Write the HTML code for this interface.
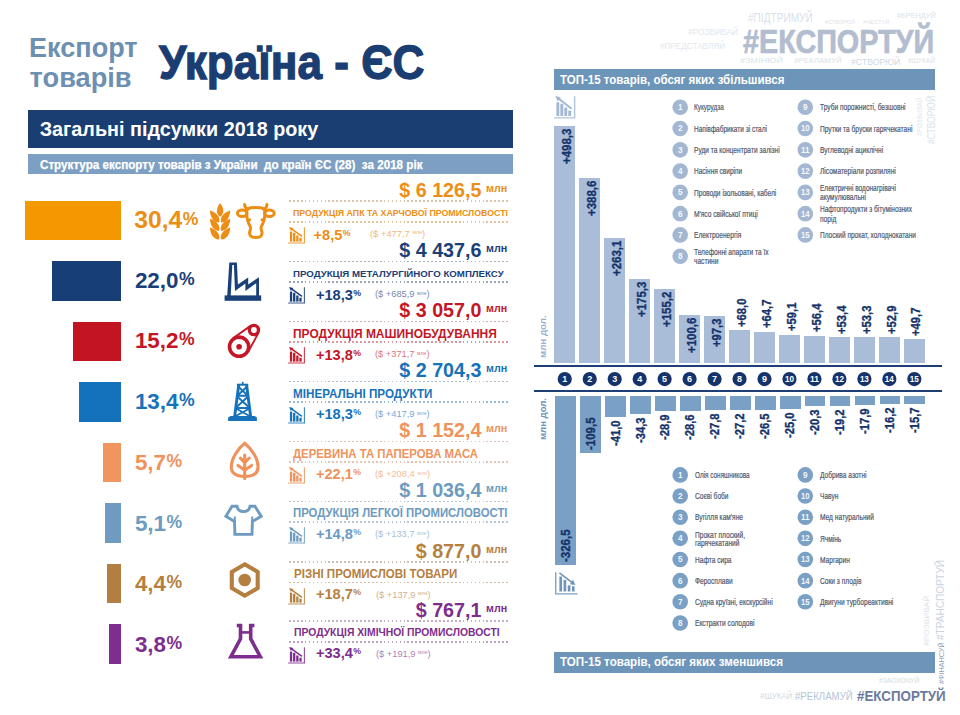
<!DOCTYPE html>
<html lang="uk"><head><meta charset="utf-8"><title>Експорт товарів Україна - ЄС</title><style>
html,body{margin:0;padding:0;background:#fff}
body{width:960px;height:715px;position:relative;overflow:hidden;font-family:"Liberation Sans",sans-serif}
.t{position:absolute;white-space:nowrap;line-height:1;margin:0;padding:0}
.r{position:absolute}
.d{position:absolute;height:1.7px;background:repeating-linear-gradient(90deg,currentColor 0,currentColor 1.7px,transparent 1.7px,transparent 3.95px);opacity:.55}
svg{overflow:visible}
</style></head>
<body>
<div id="t1" class="t" style="left:28.50px;transform-origin:0 0;top:34.19px;font-size:27.30px;font-weight:bold;color:#6d8fb1;transform:scaleX(0.9914);">Експорт</div>
<div id="t2" class="t" style="left:29.60px;transform-origin:0 0;top:63.58px;font-size:27.20px;font-weight:bold;color:#6d8fb1;">товарів</div>
<div id="t3" class="t" style="left:159.40px;transform-origin:0 0;top:38.19px;font-size:48.80px;font-weight:bold;color:#1b3e72;transform:scaleX(0.9045);-webkit-text-stroke:1.3px #1b3e72;">Україна - ЄС</div>
<div class="r" style="left:28.00px;top:109.50px;width:485.00px;height:38.20px;background:#1b3e72;"></div>
<div id="t4" class="t" style="left:39.70px;transform-origin:0 0;top:119.84px;font-size:19.80px;font-weight:bold;color:#fff;">Загальні підсумки 2018 року</div>
<div class="r" style="left:28.00px;top:153.90px;width:485.00px;height:20.50px;background:#7c9fc3;"></div>
<div id="t5" class="t" style="left:39.60px;transform-origin:0 0;top:159.20px;font-size:12.40px;font-weight:bold;color:#fff;transform:scaleX(0.9398);white-space:pre;-webkit-text-stroke:0.25px #fff;">Структура експорту товарів з України  до країн ЄС (28)  за 2018 рік</div>
<div class="r" style="left:25.40px;top:200.80px;width:95.30px;height:39.50px;background:#f39800;"></div>
<div id="t6" class="t" style="left:134.20px;transform-origin:0 0;top:207.89px;font-size:24.70px;font-weight:bold;color:#ec8e15;">30,4<span style="font-size:17.6px;position:relative;top:-3.2px;margin-left:0.4px">%</span></div>
<div id="t7" class="t" style="right:478.60px;transform-origin:100% 0;top:180.72px;font-size:19.70px;font-weight:bold;color:#ec8e15;">$ 6 126,5</div>
<div id="t8" class="t" style="left:486.30px;transform-origin:0 0;top:182.99px;font-size:11.00px;font-weight:bold;color:#ec8e15;transform:scaleX(0.9733);">млн</div>
<div class="d" style="left:288.6px;top:200.20px;width:219.2px;color:#bc9666"></div>
<div class="d" style="left:288.6px;top:220.90px;width:219.2px;color:#d09344"></div>
<div id="t9" class="t" style="left:292.50px;transform-origin:0 0;top:209.18px;font-size:8.94px;font-weight:bold;color:#ec8e15;transform:scaleX(0.9848);">ПРОДУКЦІЯ АПК ТА ХАРЧОВОЇ ПРОМИСЛОВОСТІ</div>
<svg class="r" style="left:288.40px;top:227.00px" width="17.00" height="16.60" viewBox="0 0 17 17" preserveAspectRatio="none"><rect x="1.90" y="4.70" width="2.30" height="10.30" fill="#ec8e15"/><rect x="5.05" y="5.90" width="2.30" height="9.10" fill="#ec8e15"/><rect x="8.20" y="8.70" width="2.30" height="6.30" fill="#ec8e15"/><rect x="11.35" y="11.00" width="2.30" height="4.00" fill="#ec8e15"/><path d="M14.0 9.6 L3.2 1.6" stroke="#ec8e15" stroke-width="1.45" fill="none"/><path d="M1.0 0.0 L5.4 0.9 L2.9 4.2 Z" fill="#ec8e15"/><path d="M16.4 0.2 V16.45 H0.1" stroke="#ec8e15" stroke-width="1.1" fill="none" opacity="0.85"/></svg>
<div id="t10" class="t" style="right:617.70px;transform-origin:100% 0;top:227.94px;font-size:14.60px;font-weight:bold;color:#ec8e15;">+8,5</div>
<div id="t11" class="t" style="left:342.80px;transform-origin:0 0;top:228.75px;font-size:8.80px;font-weight:bold;color:#ec8e15;">%</div>
<div id="t12" class="t" style="left:369.50px;transform-origin:0 0;top:229.98px;font-size:9.00px;font-weight:normal;color:#ec8e15;transform:scaleX(1.0396);opacity:.62;">($ +477,7 <span style="font-size:5px;position:relative;top:-2.6px">млн</span>)</div>
<div class="r" style="left:52.00px;top:261.30px;width:68.70px;height:39.50px;background:#183e78;"></div>
<div id="t13" class="t" style="left:134.90px;transform-origin:0 0;top:269.94px;font-size:22.40px;font-weight:bold;color:#1a4079;">22,0<span style="font-size:17.6px;position:relative;top:-3.2px;margin-left:0.4px">%</span></div>
<div id="t14" class="t" style="right:478.60px;transform-origin:100% 0;top:241.12px;font-size:19.70px;font-weight:bold;color:#1a4079;">$ 4 437,6</div>
<div id="t15" class="t" style="left:486.30px;transform-origin:0 0;top:243.39px;font-size:11.00px;font-weight:bold;color:#1a4079;transform:scaleX(0.9733);">млн</div>
<div class="d" style="left:288.6px;top:260.60px;width:219.2px;color:#68778e"></div>
<div class="d" style="left:288.6px;top:281.30px;width:219.2px;color:#486085"></div>
<div id="t16" class="t" style="left:292.50px;transform-origin:0 0;top:269.06px;font-size:9.78px;font-weight:bold;color:#1a4079;transform:scaleX(0.9907);">ПРОДУКЦІЯ МЕТАЛУРГІЙНОГО КОМПЛЕКСУ</div>
<svg class="r" style="left:288.40px;top:287.40px" width="17.00" height="16.60" viewBox="0 0 17 17" preserveAspectRatio="none"><rect x="1.90" y="4.70" width="2.30" height="10.30" fill="#1a4079"/><rect x="5.05" y="5.90" width="2.30" height="9.10" fill="#1a4079"/><rect x="8.20" y="8.70" width="2.30" height="6.30" fill="#1a4079"/><rect x="11.35" y="11.00" width="2.30" height="4.00" fill="#1a4079"/><path d="M14.0 9.6 L3.2 1.6" stroke="#1a4079" stroke-width="1.45" fill="none"/><path d="M1.0 0.0 L5.4 0.9 L2.9 4.2 Z" fill="#1a4079"/><path d="M16.4 0.2 V16.45 H0.1" stroke="#1a4079" stroke-width="1.1" fill="none" opacity="0.85"/></svg>
<div id="t17" class="t" style="right:607.20px;transform-origin:100% 0;top:288.09px;font-size:14.60px;font-weight:bold;color:#1a4079;">+18,3</div>
<div id="t18" class="t" style="left:353.30px;transform-origin:0 0;top:288.90px;font-size:8.80px;font-weight:bold;color:#1a4079;">%</div>
<div id="t19" class="t" style="left:375.00px;transform-origin:0 0;top:290.38px;font-size:9.00px;font-weight:normal;color:#1a4079;transform:scaleX(1.0301);opacity:.62;">($ +685,9 <span style="font-size:5px;position:relative;top:-2.6px">млн</span>)</div>
<div class="r" style="left:73.40px;top:321.80px;width:47.30px;height:39.50px;background:#c31422;"></div>
<div id="t20" class="t" style="left:134.90px;transform-origin:0 0;top:330.44px;font-size:22.40px;font-weight:bold;color:#c41626;">15,2<span style="font-size:17.6px;position:relative;top:-3.2px;margin-left:0.4px">%</span></div>
<div id="t21" class="t" style="right:478.60px;transform-origin:100% 0;top:301.02px;font-size:19.70px;font-weight:bold;color:#c41626;">$ 3 057,0</div>
<div id="t22" class="t" style="left:486.30px;transform-origin:0 0;top:303.29px;font-size:11.00px;font-weight:bold;color:#c41626;transform:scaleX(0.9733);">млн</div>
<div class="d" style="left:288.6px;top:320.50px;width:219.2px;color:#ac666d"></div>
<div class="d" style="left:288.6px;top:341.20px;width:219.2px;color:#b6454f"></div>
<div id="t23" class="t" style="left:292.50px;transform-origin:0 0;top:326.81px;font-size:13.27px;font-weight:bold;color:#c41626;transform:scaleX(0.9009);">ПРОДУКЦІЯ МАШИНОБУДУВАННЯ</div>
<svg class="r" style="left:288.40px;top:347.30px" width="17.00" height="16.60" viewBox="0 0 17 17" preserveAspectRatio="none"><rect x="1.90" y="4.70" width="2.30" height="10.30" fill="#c41626"/><rect x="5.05" y="5.90" width="2.30" height="9.10" fill="#c41626"/><rect x="8.20" y="8.70" width="2.30" height="6.30" fill="#c41626"/><rect x="11.35" y="11.00" width="2.30" height="4.00" fill="#c41626"/><path d="M14.0 9.6 L3.2 1.6" stroke="#c41626" stroke-width="1.45" fill="none"/><path d="M1.0 0.0 L5.4 0.9 L2.9 4.2 Z" fill="#c41626"/><path d="M16.4 0.2 V16.45 H0.1" stroke="#c41626" stroke-width="1.1" fill="none" opacity="0.85"/></svg>
<div id="t24" class="t" style="right:607.20px;transform-origin:100% 0;top:347.74px;font-size:14.60px;font-weight:bold;color:#c41626;">+13,8</div>
<div id="t25" class="t" style="left:353.30px;transform-origin:0 0;top:348.55px;font-size:8.80px;font-weight:bold;color:#c41626;">%</div>
<div id="t26" class="t" style="left:375.00px;transform-origin:0 0;top:350.28px;font-size:9.00px;font-weight:normal;color:#c41626;transform:scaleX(1.0301);opacity:.62;">($ +371,7 <span style="font-size:5px;position:relative;top:-2.6px">млн</span>)</div>
<div class="r" style="left:78.80px;top:382.30px;width:41.90px;height:39.50px;background:#1372bb;"></div>
<div id="t27" class="t" style="left:134.90px;transform-origin:0 0;top:390.94px;font-size:22.40px;font-weight:bold;color:#1672ba;">13,4<span style="font-size:17.6px;position:relative;top:-3.2px;margin-left:0.4px">%</span></div>
<div id="t28" class="t" style="right:478.60px;transform-origin:100% 0;top:361.02px;font-size:19.70px;font-weight:bold;color:#1672ba;">$ 2 704,3</div>
<div id="t29" class="t" style="left:486.30px;transform-origin:0 0;top:363.29px;font-size:11.00px;font-weight:bold;color:#1672ba;transform:scaleX(0.9733);">млн</div>
<div class="d" style="left:288.6px;top:380.50px;width:219.2px;color:#668ba8"></div>
<div class="d" style="left:288.6px;top:401.20px;width:219.2px;color:#4581b0"></div>
<div id="t30" class="t" style="left:292.50px;transform-origin:0 0;top:386.81px;font-size:13.27px;font-weight:bold;color:#1672ba;transform:scaleX(0.8792);">МІНЕРАЛЬНІ ПРОДУКТИ</div>
<svg class="r" style="left:288.40px;top:407.30px" width="17.00" height="16.60" viewBox="0 0 17 17" preserveAspectRatio="none"><rect x="1.90" y="4.70" width="2.30" height="10.30" fill="#1672ba"/><rect x="5.05" y="5.90" width="2.30" height="9.10" fill="#1672ba"/><rect x="8.20" y="8.70" width="2.30" height="6.30" fill="#1672ba"/><rect x="11.35" y="11.00" width="2.30" height="4.00" fill="#1672ba"/><path d="M14.0 9.6 L3.2 1.6" stroke="#1672ba" stroke-width="1.45" fill="none"/><path d="M1.0 0.0 L5.4 0.9 L2.9 4.2 Z" fill="#1672ba"/><path d="M16.4 0.2 V16.45 H0.1" stroke="#1672ba" stroke-width="1.1" fill="none" opacity="0.85"/></svg>
<div id="t31" class="t" style="right:607.20px;transform-origin:100% 0;top:407.49px;font-size:14.60px;font-weight:bold;color:#1672ba;">+18,3</div>
<div id="t32" class="t" style="left:353.30px;transform-origin:0 0;top:408.30px;font-size:8.80px;font-weight:bold;color:#1672ba;">%</div>
<div id="t33" class="t" style="left:375.00px;transform-origin:0 0;top:410.28px;font-size:9.00px;font-weight:normal;color:#1672ba;transform:scaleX(1.0301);opacity:.62;">($ +417,9 <span style="font-size:5px;position:relative;top:-2.6px">млн</span>)</div>
<div class="r" style="left:102.60px;top:442.80px;width:18.10px;height:39.50px;background:#f0955f;"></div>
<div id="t34" class="t" style="left:134.90px;transform-origin:0 0;top:452.34px;font-size:22.40px;font-weight:bold;color:#ef925b;">5,7<span style="font-size:17.6px;position:relative;top:-3.2px;margin-left:0.4px">%</span></div>
<div id="t35" class="t" style="right:478.60px;transform-origin:100% 0;top:421.02px;font-size:19.70px;font-weight:bold;color:#ef925b;">$ 1 152,4</div>
<div id="t36" class="t" style="left:486.30px;transform-origin:0 0;top:423.29px;font-size:11.00px;font-weight:bold;color:#ef925b;transform:scaleX(0.9733);">млн</div>
<div class="d" style="left:288.6px;top:440.50px;width:219.2px;color:#bd9882"></div>
<div class="d" style="left:288.6px;top:461.20px;width:219.2px;color:#d29672"></div>
<div id="t37" class="t" style="left:292.50px;transform-origin:0 0;top:446.81px;font-size:13.27px;font-weight:bold;color:#ef925b;transform:scaleX(0.8560);">ДЕРЕВИНА ТА ПАПЕРОВА МАСА</div>
<svg class="r" style="left:288.40px;top:467.30px" width="17.00" height="16.60" viewBox="0 0 17 17" preserveAspectRatio="none"><rect x="1.90" y="4.70" width="2.30" height="10.30" fill="#ef925b"/><rect x="5.05" y="5.90" width="2.30" height="9.10" fill="#ef925b"/><rect x="8.20" y="8.70" width="2.30" height="6.30" fill="#ef925b"/><rect x="11.35" y="11.00" width="2.30" height="4.00" fill="#ef925b"/><path d="M14.0 9.6 L3.2 1.6" stroke="#ef925b" stroke-width="1.45" fill="none"/><path d="M1.0 0.0 L5.4 0.9 L2.9 4.2 Z" fill="#ef925b"/><path d="M16.4 0.2 V16.45 H0.1" stroke="#ef925b" stroke-width="1.1" fill="none" opacity="0.85"/></svg>
<div id="t38" class="t" style="right:607.20px;transform-origin:100% 0;top:467.24px;font-size:14.60px;font-weight:bold;color:#ef925b;">+22,1</div>
<div id="t39" class="t" style="left:353.30px;transform-origin:0 0;top:468.05px;font-size:8.80px;font-weight:bold;color:#ef925b;">%</div>
<div id="t40" class="t" style="left:375.00px;transform-origin:0 0;top:470.28px;font-size:9.00px;font-weight:normal;color:#ef925b;transform:scaleX(1.0396);opacity:.62;">($ +208,4 <span style="font-size:5px;position:relative;top:-2.6px">млн</span>)</div>
<div class="r" style="left:104.50px;top:503.30px;width:16.20px;height:39.50px;background:#6f9bc0;"></div>
<div id="t41" class="t" style="left:134.90px;transform-origin:0 0;top:512.84px;font-size:22.40px;font-weight:bold;color:#6d9bc1;">5,1<span style="font-size:17.6px;position:relative;top:-3.2px;margin-left:0.4px">%</span></div>
<div id="t42" class="t" style="right:478.60px;transform-origin:100% 0;top:481.02px;font-size:19.70px;font-weight:bold;color:#6d9bc1;">$ 1 036,4</div>
<div id="t43" class="t" style="left:486.30px;transform-origin:0 0;top:483.29px;font-size:11.00px;font-weight:bold;color:#6d9bc1;transform:scaleX(0.9733);">млн</div>
<div class="d" style="left:288.6px;top:500.50px;width:219.2px;color:#899cab"></div>
<div class="d" style="left:288.6px;top:521.20px;width:219.2px;color:#7d9bb4"></div>
<div id="t44" class="t" style="left:292.50px;transform-origin:0 0;top:507.46px;font-size:12.22px;font-weight:bold;color:#6d9bc1;transform:scaleX(0.9280);">ПРОДУКЦІЯ ЛЕГКОЇ ПРОМИСЛОВОСТІ</div>
<svg class="r" style="left:288.40px;top:527.30px" width="17.00" height="16.60" viewBox="0 0 17 17" preserveAspectRatio="none"><rect x="1.90" y="4.70" width="2.30" height="10.30" fill="#6d9bc1"/><rect x="5.05" y="5.90" width="2.30" height="9.10" fill="#6d9bc1"/><rect x="8.20" y="8.70" width="2.30" height="6.30" fill="#6d9bc1"/><rect x="11.35" y="11.00" width="2.30" height="4.00" fill="#6d9bc1"/><path d="M14.0 9.6 L3.2 1.6" stroke="#6d9bc1" stroke-width="1.45" fill="none"/><path d="M1.0 0.0 L5.4 0.9 L2.9 4.2 Z" fill="#6d9bc1"/><path d="M16.4 0.2 V16.45 H0.1" stroke="#6d9bc1" stroke-width="1.1" fill="none" opacity="0.85"/></svg>
<div id="t45" class="t" style="right:607.20px;transform-origin:100% 0;top:526.99px;font-size:14.60px;font-weight:bold;color:#6d9bc1;">+14,8</div>
<div id="t46" class="t" style="left:353.30px;transform-origin:0 0;top:527.80px;font-size:8.80px;font-weight:bold;color:#6d9bc1;">%</div>
<div id="t47" class="t" style="left:375.00px;transform-origin:0 0;top:530.28px;font-size:9.00px;font-weight:normal;color:#6d9bc1;transform:scaleX(1.0301);opacity:.62;">($ +133,7 <span style="font-size:5px;position:relative;top:-2.6px">млн</span>)</div>
<div class="r" style="left:106.70px;top:563.80px;width:14.00px;height:39.50px;background:#b37e42;"></div>
<div id="t48" class="t" style="left:134.90px;transform-origin:0 0;top:573.34px;font-size:22.40px;font-weight:bold;color:#b5803f;">4,4<span style="font-size:17.6px;position:relative;top:-3.2px;margin-left:0.4px">%</span></div>
<div id="t49" class="t" style="right:478.60px;transform-origin:100% 0;top:541.52px;font-size:19.70px;font-weight:bold;color:#b5803f;">$ 877,0</div>
<div id="t50" class="t" style="left:486.30px;transform-origin:0 0;top:543.79px;font-size:11.00px;font-weight:bold;color:#b5803f;transform:scaleX(0.9733);">млн</div>
<div class="d" style="left:288.6px;top:561.00px;width:219.2px;color:#a69177"></div>
<div class="d" style="left:288.6px;top:581.70px;width:219.2px;color:#ac8a60"></div>
<div id="t51" class="t" style="left:293.75px;transform-origin:0 0;top:567.96px;font-size:12.22px;font-weight:bold;color:#b5803f;transform:scaleX(0.9442);">РІЗНІ ПРОМИСЛОВІ ТОВАРИ</div>
<svg class="r" style="left:288.40px;top:587.80px" width="17.00" height="16.60" viewBox="0 0 17 17" preserveAspectRatio="none"><rect x="1.90" y="4.70" width="2.30" height="10.30" fill="#b5803f"/><rect x="5.05" y="5.90" width="2.30" height="9.10" fill="#b5803f"/><rect x="8.20" y="8.70" width="2.30" height="6.30" fill="#b5803f"/><rect x="11.35" y="11.00" width="2.30" height="4.00" fill="#b5803f"/><path d="M14.0 9.6 L3.2 1.6" stroke="#b5803f" stroke-width="1.45" fill="none"/><path d="M1.0 0.0 L5.4 0.9 L2.9 4.2 Z" fill="#b5803f"/><path d="M16.4 0.2 V16.45 H0.1" stroke="#b5803f" stroke-width="1.1" fill="none" opacity="0.85"/></svg>
<div id="t52" class="t" style="right:607.20px;transform-origin:100% 0;top:587.24px;font-size:14.60px;font-weight:bold;color:#b5803f;">+18,7</div>
<div id="t53" class="t" style="left:353.30px;transform-origin:0 0;top:588.05px;font-size:8.80px;font-weight:bold;color:#b5803f;">%</div>
<div id="t54" class="t" style="left:376.00px;transform-origin:0 0;top:590.78px;font-size:9.00px;font-weight:normal;color:#b5803f;transform:scaleX(1.0301);opacity:.62;">($ +137,9 <span style="font-size:5px;position:relative;top:-2.6px">млн</span>)</div>
<div class="r" style="left:108.80px;top:624.30px;width:11.90px;height:39.50px;background:#7e2e8e;"></div>
<div id="t55" class="t" style="left:134.90px;transform-origin:0 0;top:633.84px;font-size:22.40px;font-weight:bold;color:#7d2d8d;">3,8<span style="font-size:17.6px;position:relative;top:-3.2px;margin-left:0.4px">%</span></div>
<div id="t56" class="t" style="right:478.60px;transform-origin:100% 0;top:600.82px;font-size:19.70px;font-weight:bold;color:#7d2d8d;">$ 767,1</div>
<div id="t57" class="t" style="left:486.30px;transform-origin:0 0;top:603.09px;font-size:11.00px;font-weight:bold;color:#7d2d8d;transform:scaleX(0.9733);">млн</div>
<div class="d" style="left:288.6px;top:620.30px;width:219.2px;color:#907096"></div>
<div class="d" style="left:288.6px;top:641.00px;width:219.2px;color:#885492"></div>
<div id="t58" class="t" style="left:293.75px;transform-origin:0 0;top:628.33px;font-size:10.47px;font-weight:bold;color:#7d2d8d;transform:scaleX(0.9900);">ПРОДУКЦІЯ ХІМІЧНОЇ ПРОМИСЛОВОСТІ</div>
<svg class="r" style="left:288.40px;top:647.10px" width="17.00" height="16.60" viewBox="0 0 17 17" preserveAspectRatio="none"><rect x="1.90" y="4.70" width="2.30" height="10.30" fill="#7d2d8d"/><rect x="5.05" y="5.90" width="2.30" height="9.10" fill="#7d2d8d"/><rect x="8.20" y="8.70" width="2.30" height="6.30" fill="#7d2d8d"/><rect x="11.35" y="11.00" width="2.30" height="4.00" fill="#7d2d8d"/><path d="M14.0 9.6 L3.2 1.6" stroke="#7d2d8d" stroke-width="1.45" fill="none"/><path d="M1.0 0.0 L5.4 0.9 L2.9 4.2 Z" fill="#7d2d8d"/><path d="M16.4 0.2 V16.45 H0.1" stroke="#7d2d8d" stroke-width="1.1" fill="none" opacity="0.85"/></svg>
<div id="t59" class="t" style="right:607.20px;transform-origin:100% 0;top:646.29px;font-size:14.60px;font-weight:bold;color:#7d2d8d;">+33,4</div>
<div id="t60" class="t" style="left:353.30px;transform-origin:0 0;top:647.10px;font-size:8.80px;font-weight:bold;color:#7d2d8d;">%</div>
<div id="t61" class="t" style="left:376.00px;transform-origin:0 0;top:650.08px;font-size:9.00px;font-weight:normal;color:#7d2d8d;transform:scaleX(1.0301);opacity:.62;">($ +191,9 <span style="font-size:5px;position:relative;top:-2.6px">млн</span>)</div>
<svg class="r" style="left:0;top:0" width="960" height="715" viewBox="0 0 960 715"><path transform="translate(220.10 216.80) rotate(0.0)" d="M0 0 C -4.95 -3.40 -3.63 -9.52 0 -13.60 C 3.63 -9.52 4.95 -3.40 0 0 Z" fill="#ec8e15"/><path transform="translate(219.20 222.60) rotate(-37.0)" d="M0 0 C -4.80 -3.80 -3.52 -10.64 0 -15.20 C 3.52 -10.64 4.80 -3.80 0 0 Z" fill="#ec8e15"/><path transform="translate(221.00 222.60) rotate(37.0)" d="M0 0 C -4.80 -3.80 -3.52 -10.64 0 -15.20 C 3.52 -10.64 4.80 -3.80 0 0 Z" fill="#ec8e15"/><path transform="translate(219.20 231.00) rotate(-37.0)" d="M0 0 C -4.80 -3.80 -3.52 -10.64 0 -15.20 C 3.52 -10.64 4.80 -3.80 0 0 Z" fill="#ec8e15"/><path transform="translate(221.00 231.00) rotate(37.0)" d="M0 0 C -4.80 -3.80 -3.52 -10.64 0 -15.20 C 3.52 -10.64 4.80 -3.80 0 0 Z" fill="#ec8e15"/><path transform="translate(219.20 239.60) rotate(-37.0)" d="M0 0 C -4.80 -3.80 -3.52 -10.64 0 -15.20 C 3.52 -10.64 4.80 -3.80 0 0 Z" fill="#ec8e15"/><path transform="translate(221.00 239.60) rotate(37.0)" d="M0 0 C -4.80 -3.80 -3.52 -10.64 0 -15.20 C 3.52 -10.64 4.80 -3.80 0 0 Z" fill="#ec8e15"/><g fill="none" stroke="#ec8e15" stroke-width="3" stroke-linecap="round" stroke-linejoin="round"><path d="M247.3 208.8 C 251 207.2 260.5 207.2 264.2 208.8"/><path d="M244.6 204.6 C 244.8 207.2 246 208.6 248.2 209.2"/><path d="M267.0 204.6 C 266.8 207.2 265.6 208.6 263.4 209.2"/><ellipse cx="242.2" cy="213.2" rx="4.8" ry="3.2"/><ellipse cx="269.4" cy="213.2" rx="4.8" ry="3.2"/><path d="M246.8 209.6 C 246.2 216 247.6 222 250.2 226.6 C 251.2 228.6 250.0 230.4 249.6 232.2 C 249.0 236.2 252.6 237.6 255.8 237.6 C 259.0 237.6 262.6 236.2 262.0 232.2 C 261.6 230.4 260.4 228.6 261.4 226.6 C 264.0 222 265.4 216 264.8 209.6"/></g><circle cx="249.6" cy="219.8" r="1.5" fill="#ec8e15"/><circle cx="262.0" cy="219.8" r="1.5" fill="#ec8e15"/><rect x="224.6" y="295.4" width="36.6" height="5.4" fill="#1a4079"/><path d="M227.2 296 L229.3 262.4 L236.9 262.4 L237.9 284.4 L248.2 277.5 L248.2 284.4 L259.0 277.3 L259.0 296 L256.2 296 L256.2 283.2 L245.4 291.0 L245.4 283.4 L235.0 291.0 L233.9 265.1 L232.3 265.1 L230.7 296 Z" fill="#1a4079"/><g fill="none" stroke="#c41626"><circle cx="239.1" cy="346.7" r="9.6" stroke-width="3.6"/><circle cx="253.9" cy="330.0" r="4.6" stroke-width="3.4"/><path d="M233.07 338.17 L250.81 325.63 M258.61 332.54 L248.30 351.66" stroke-width="1.9"/></g><circle cx="239.1" cy="346.7" r="2.8" fill="#c41626"/><g fill="#1672ba" stroke="none"><rect x="241.9" y="381.8" width="1.6" height="2.6"/><rect x="236.9" y="383.7" width="11.3" height="2.0"/><path d="M230.6 416.0 L254.6 416.0 L256.9 417.4 L256.9 420.9 L228.1 420.9 L228.1 417.4 Z"/></g><g fill="none" stroke="#1672ba" stroke-width="2.9" stroke-linejoin="round"><path d="M238.7 385 L234.6 417 M246.6 385 L250.7 417"/></g><g fill="none" stroke="#1672ba" stroke-width="1.9"><path d="M238.2 386.5 L247.6 395.5 M247.1 386.5 L237.6 395.5 M237.2 395.8 H248.1"/><path d="M237.2 396.5 L249.2 407.5 M248.1 396.5 L236.1 407.5 M235.8 408.0 H249.5"/><path d="M235.9 408.5 L250.4 416.5 M249.4 408.5 L234.9 416.5"/></g><g fill="none" stroke="#ef925b" stroke-width="3.1" stroke-linecap="round" stroke-linejoin="round"><path d="M244.7 443.2 C 252 449 258.1 459 258.1 466.8 C 258.1 473.4 252.6 476.4 244.7 476.4 C 236.8 476.4 231.3 473.4 231.3 466.8 C 231.3 459 237.4 449 244.7 443.2 Z" stroke-linejoin="miter"/><path d="M244.7 455.0 V478.6 M244.7 462.6 L240.4 458.2 M244.7 462.6 L249.2 458.2 M244.7 470.2 L238.0 465.4 M244.7 470.2 L251.6 465.4"/></g><path fill="none" stroke="#6d9bc1" stroke-width="2.9" stroke-linejoin="miter" d="M237.0 506.3 L232.0 506.3 L225.9 516.3 L234.5 521.4 L234.9 534.4 L252.0 534.4 L252.4 521.4 L261.2 516.3 L254.9 506.3 L250.0 506.3 C 249.4 510.2 246.6 511.6 243.5 511.6 C 240.4 511.6 237.6 510.2 237.0 506.3 Z"/><path fill="none" stroke="#6d9bc1" stroke-width="2.0" d="M234.8 521.6 L234.8 516.4 M252.2 521.6 L252.2 516.4"/><path fill="none" stroke="#b5803f" stroke-width="4.1" stroke-linejoin="miter" d="M244.7 564.3 L257.7 571.9 L257.7 588.1 L244.7 595.7 L231.8 588.1 L231.8 571.9 Z"/><circle cx="244.7" cy="580.0" r="6.3" fill="#b5803f"/><g fill="none" stroke="#7d2d8d" stroke-linejoin="miter"><path stroke-width="3.5" d="M236.8 625.4 H242.0 M249.2 625.4 H254.4"/><path stroke-width="3.6" d="M240.5 624.0 V638.8 L230.9 656.7 H260.3 L250.7 638.8 V624.0"/><path stroke-width="2.6" d="M240.4 632.4 H250.8"/></g></svg>
<div id="t62" class="t" style="left:743.40px;transform-origin:0 0;top:24.15px;font-size:34.08px;font-weight:bold;color:#b3bdd0;transform:scaleX(0.8444);-webkit-text-stroke:0.7px #b3bdd0;">#ЕКСПОРТУЙ</div>
<div id="t63" class="t" style="left:748.00px;transform-origin:0 0;top:12.41px;font-size:12.15px;font-weight:normal;color:#d9dfe8;transform:scaleX(0.8308);">#ПІДТРИМУЙ</div>
<div id="t64" class="t" style="left:825.00px;transform-origin:0 0;top:20.15px;font-size:5.73px;font-weight:normal;color:#dfe4eb;transform:scaleX(0.9262);">#СТВОРЮЙ</div>
<div id="t65" class="t" style="left:862.70px;transform-origin:0 0;top:18.80px;font-size:6.15px;font-weight:normal;color:#dfe4eb;transform:scaleX(0.9424);">#ЧЕСТУЙ</div>
<div id="t66" class="t" style="left:897.00px;transform-origin:0 0;top:11.68px;font-size:7.82px;font-weight:normal;color:#d9dfe8;transform:scaleX(0.9325);">#БРЕНДУЙ</div>
<div id="t67" class="t" style="left:688.00px;transform-origin:0 0;top:28.08px;font-size:9.36px;font-weight:normal;color:#e2e7ee;transform:scaleX(0.8936);">#РОЗВИВАЙ</div>
<div id="t68" class="t" style="left:660.00px;transform-origin:0 0;top:42.21px;font-size:8.38px;font-weight:normal;color:#e2e7ee;transform:scaleX(0.9733);">#ПРЕДСТАВЛЯЙ</div>
<div id="t69" class="t" style="left:740.00px;transform-origin:0 0;top:57.26px;font-size:7.96px;font-weight:normal;color:#d9dfe8;transform:scaleX(1.1448);">#ЗМІНЮЙ</div>
<div id="t70" class="t" style="left:794.00px;transform-origin:0 0;top:57.26px;font-size:7.96px;font-weight:normal;color:#d9dfe8;transform:scaleX(1.0022);">#РЕКЛАМУЙ</div>
<div id="t71" class="t" style="left:850.70px;transform-origin:0 0;top:57.78px;font-size:9.36px;font-weight:normal;color:#d0d7e2;transform:scaleX(0.9316);">#СТВОРЮЙ</div>
<div id="t72" class="t" style="left:908.00px;transform-origin:0 0;top:58.44px;font-size:6.56px;font-weight:normal;color:#d9dfe8;transform:scaleX(1.0117);">#ШУКАЙ</div>
<div id="t73" class="t" style="left:924.67px;top:144.00px;transform-origin:0 0;font-size:11.73px;font-weight:normal;color:#d9dfe8;transform:rotate(-90deg) scaleX(0.7232);">#СТВОРЮЙ</div>
<div id="t74" class="t" style="left:915.65px;top:135.50px;transform-origin:0 0;font-size:7.26px;font-weight:normal;color:#e3e7ed;transform:rotate(-90deg) scaleX(0.8866);">#РОЗВИВАЙ</div>
<div id="t75" class="t" style="left:857.20px;transform-origin:0 0;top:689.17px;font-size:14.80px;font-weight:bold;color:#6c7b9c;transform:scaleX(0.9021);">#ЕКСПОРТУЙ</div>
<div id="t76" class="t" style="left:795.00px;transform-origin:0 0;top:690.78px;font-size:10.89px;font-weight:normal;color:#b4c4d8;transform:scaleX(0.8866);">#РЕКЛАМУЙ</div>
<div id="t77" class="t" style="left:760.30px;transform-origin:0 0;top:691.99px;font-size:8.52px;font-weight:normal;color:#d3dae4;transform:scaleX(0.9275);">#ШУКАЙ</div>
<div id="t78" class="t" style="left:878.70px;transform-origin:0 0;top:678.44px;font-size:6.56px;font-weight:normal;color:#d3dae4;transform:scaleX(1.0346);">#ЗАОХОЧУЙ</div>
<div id="t79" class="t" style="left:934.78px;top:640.30px;transform-origin:0 0;font-size:10.89px;font-weight:normal;color:#cbd3df;transform:rotate(-90deg) scaleX(0.9250);">#ТРАНСПОРТУЙ</div>
<div id="t80" class="t" style="left:922.64px;top:645.80px;transform-origin:0 0;font-size:8.10px;font-weight:normal;color:#dde3ea;transform:rotate(-90deg) scaleX(1.0398);">#РОЗВИВАЙ</div>
<div id="t81" class="t" style="left:937.89px;top:683.60px;transform-origin:0 0;font-size:6.98px;font-weight:normal;color:#8f9db5;transform:rotate(-90deg) scaleX(1.0384);">#ФІНАНСУЙ</div>
<div class="r" style="left:553.80px;top:69.20px;width:381.00px;height:20.80px;background:#6d95b9;"></div>
<div id="t82" class="t" style="left:559.80px;transform-origin:0 0;top:73.58px;font-size:12.90px;font-weight:bold;color:#fff;transform:scaleX(0.8933);">ТОП-15 товарів, обсяг яких збільшився</div>
<div class="r" style="left:553.80px;top:652.10px;width:381.00px;height:20.90px;background:#6d95b9;"></div>
<div id="t83" class="t" style="left:560.20px;transform-origin:0 0;top:656.48px;font-size:12.90px;font-weight:bold;color:#fff;transform:scaleX(0.8990);">ТОП-15 товарів, обсяг яких зменшився</div>
<svg class="r" style="left:553.80px;top:96.20px" width="21.40" height="22.60" viewBox="0 0 17 17" preserveAspectRatio="none"><rect x="1.90" y="4.70" width="2.30" height="10.30" fill="#a3b8d4"/><rect x="5.05" y="5.90" width="2.30" height="9.10" fill="#a3b8d4"/><rect x="8.20" y="8.70" width="2.30" height="6.30" fill="#a3b8d4"/><rect x="11.35" y="11.00" width="2.30" height="4.00" fill="#a3b8d4"/><path d="M14.0 9.6 L3.2 1.6" stroke="#a3b8d4" stroke-width="1.45" fill="none"/><path d="M1.0 0.0 L5.4 0.9 L2.9 4.2 Z" fill="#a3b8d4"/><path d="M16.4 0.2 V16.45 H0.1" stroke="#a3b8d4" stroke-width="1.1" fill="none" opacity="0.85"/></svg>
<svg class="r" style="left:554.60px;top:571.50px" width="22.60" height="22.70" viewBox="0 0 17 17" preserveAspectRatio="none"><rect x="3.30" y="3.40" width="2.00" height="11.20" fill="#6d95b9"/><rect x="6.45" y="5.90" width="2.00" height="8.70" fill="#6d95b9"/><rect x="9.60" y="10.00" width="2.00" height="4.60" fill="#6d95b9"/><rect x="12.75" y="10.70" width="2.00" height="3.90" fill="#6d95b9"/><path d="M3.3 0.7 L13.2 8.1" stroke="#6d95b9" stroke-width="1.2" fill="none"/><path d="M15.3 9.7 L11.2 9.2 L13.6 5.9 Z" fill="#6d95b9"/><path d="M0.55 0.2 V16.35 H17.0" stroke="#6d95b9" stroke-width="1.0" fill="none" opacity="0.9"/></svg>
<div id="t84" class="t" style="left:538.10px;top:357.90px;transform-origin:0 0;font-size:9.80px;font-weight:bold;color:#9ab2d0;transform:rotate(-90deg) scaleX(0.9927);">млн дол.</div>
<div id="t85" class="t" style="left:538.10px;top:439.70px;transform-origin:0 0;font-size:9.80px;font-weight:bold;color:#6d95b9;transform:rotate(-90deg) scaleX(0.9764);">млн дол.</div>
<div class="r" style="left:534.30px;top:365.40px;width:407.30px;height:1.90px;background:#1d3f75;"></div>
<div class="r" style="left:534.30px;top:389.90px;width:407.30px;height:1.90px;background:#1d3f75;"></div>
<div class="r" style="left:554.20px;top:126.10px;width:20.90px;height:236.50px;background:#a9bdd9;"></div>
<div id="t86" class="t" style="left:559.90px;top:164.10px;transform-origin:0 0;font-size:13.00px;font-weight:bold;color:#15336a;transform:rotate(-90deg) scaleX(0.8822);-webkit-text-stroke:0.35px #15336a;">+498,3</div>
<div class="r" style="left:554.90px;top:395.80px;width:20.90px;height:169.40px;background:#7ba0c5;"></div>
<div id="t87" class="t" style="left:558.60px;top:562.40px;transform-origin:0 0;font-size:13.00px;font-weight:bold;color:#15336a;transform:rotate(-90deg) scaleX(0.8841);-webkit-text-stroke:0.35px #15336a;">-326,5</div>
<div class="r" style="left:579.17px;top:178.17px;width:20.90px;height:184.43px;background:#a9bdd9;"></div>
<div id="t88" class="t" style="left:584.87px;top:216.17px;transform-origin:0 0;font-size:13.00px;font-weight:bold;color:#15336a;transform:rotate(-90deg) scaleX(0.8822);-webkit-text-stroke:0.35px #15336a;">+388,6</div>
<div class="r" style="left:579.87px;top:395.80px;width:20.90px;height:56.81px;background:#7ba0c5;"></div>
<div id="t89" class="t" style="left:583.57px;top:449.81px;transform-origin:0 0;font-size:13.00px;font-weight:bold;color:#15336a;transform:rotate(-90deg) scaleX(0.8841);-webkit-text-stroke:0.35px #15336a;">-109,5</div>
<div class="r" style="left:604.14px;top:237.73px;width:20.90px;height:124.87px;background:#a9bdd9;"></div>
<div id="t90" class="t" style="left:609.84px;top:275.73px;transform-origin:0 0;font-size:13.00px;font-weight:bold;color:#15336a;transform:rotate(-90deg) scaleX(0.8822);-webkit-text-stroke:0.35px #15336a;">+263,1</div>
<div class="r" style="left:604.84px;top:395.80px;width:20.90px;height:21.27px;background:#7ba0c5;"></div>
<div id="t91" class="t" style="left:608.54px;top:446.17px;transform-origin:0 0;font-size:13.00px;font-weight:bold;color:#15336a;transform:rotate(-90deg) scaleX(0.8603);-webkit-text-stroke:0.35px #15336a;">-41,0</div>
<div class="r" style="left:629.11px;top:279.40px;width:20.90px;height:83.20px;background:#a9bdd9;"></div>
<div id="t92" class="t" style="left:634.81px;top:317.40px;transform-origin:0 0;font-size:13.00px;font-weight:bold;color:#15336a;transform:rotate(-90deg) scaleX(0.8822);-webkit-text-stroke:0.35px #15336a;">+175,3</div>
<div class="r" style="left:629.81px;top:395.80px;width:20.90px;height:17.80px;background:#7ba0c5;"></div>
<div id="t93" class="t" style="left:633.51px;top:442.70px;transform-origin:0 0;font-size:13.00px;font-weight:bold;color:#15336a;transform:rotate(-90deg) scaleX(0.8603);-webkit-text-stroke:0.35px #15336a;">-34,3</div>
<div class="r" style="left:654.08px;top:288.94px;width:20.90px;height:73.66px;background:#a9bdd9;"></div>
<div id="t94" class="t" style="left:659.78px;top:326.94px;transform-origin:0 0;font-size:13.00px;font-weight:bold;color:#15336a;transform:rotate(-90deg) scaleX(0.8822);-webkit-text-stroke:0.35px #15336a;">+155,2</div>
<div class="r" style="left:654.78px;top:395.80px;width:20.90px;height:14.99px;background:#7ba0c5;"></div>
<div id="t95" class="t" style="left:658.48px;top:439.89px;transform-origin:0 0;font-size:13.00px;font-weight:bold;color:#15336a;transform:rotate(-90deg) scaleX(0.8603);-webkit-text-stroke:0.35px #15336a;">-28,9</div>
<div class="r" style="left:679.05px;top:314.85px;width:20.90px;height:47.75px;background:#a9bdd9;"></div>
<div id="t96" class="t" style="left:684.75px;top:352.85px;transform-origin:0 0;font-size:13.00px;font-weight:bold;color:#15336a;transform:rotate(-90deg) scaleX(0.8822);-webkit-text-stroke:0.35px #15336a;">+100,6</div>
<div class="r" style="left:679.75px;top:395.80px;width:20.90px;height:14.84px;background:#7ba0c5;"></div>
<div id="t97" class="t" style="left:683.45px;top:439.74px;transform-origin:0 0;font-size:13.00px;font-weight:bold;color:#15336a;transform:rotate(-90deg) scaleX(0.8603);-webkit-text-stroke:0.35px #15336a;">-28,6</div>
<div class="r" style="left:704.02px;top:316.42px;width:20.90px;height:46.18px;background:#a9bdd9;"></div>
<div id="t98" class="t" style="left:709.72px;top:347.42px;transform-origin:0 0;font-size:13.00px;font-weight:bold;color:#15336a;transform:rotate(-90deg) scaleX(0.8631);-webkit-text-stroke:0.35px #15336a;">+97,3</div>
<div class="r" style="left:704.72px;top:395.80px;width:20.90px;height:14.42px;background:#7ba0c5;"></div>
<div id="t99" class="t" style="left:708.42px;top:439.32px;transform-origin:0 0;font-size:13.00px;font-weight:bold;color:#15336a;transform:rotate(-90deg) scaleX(0.8603);-webkit-text-stroke:0.35px #15336a;">-27,8</div>
<div class="r" style="left:728.99px;top:330.33px;width:20.90px;height:32.27px;background:#a9bdd9;"></div>
<div id="t100" class="t" style="left:734.69px;top:326.93px;transform-origin:0 0;font-size:13.00px;font-weight:bold;color:#15336a;transform:rotate(-90deg) scaleX(0.8631);-webkit-text-stroke:0.35px #15336a;">+68,0</div>
<div class="r" style="left:729.69px;top:395.80px;width:20.90px;height:14.11px;background:#7ba0c5;"></div>
<div id="t101" class="t" style="left:733.39px;top:439.01px;transform-origin:0 0;font-size:13.00px;font-weight:bold;color:#15336a;transform:rotate(-90deg) scaleX(0.8603);-webkit-text-stroke:0.35px #15336a;">-27,2</div>
<div class="r" style="left:753.96px;top:331.89px;width:20.90px;height:30.71px;background:#a9bdd9;"></div>
<div id="t102" class="t" style="left:759.66px;top:328.49px;transform-origin:0 0;font-size:13.00px;font-weight:bold;color:#15336a;transform:rotate(-90deg) scaleX(0.8631);-webkit-text-stroke:0.35px #15336a;">+64,7</div>
<div class="r" style="left:754.66px;top:395.80px;width:20.90px;height:13.75px;background:#7ba0c5;"></div>
<div id="t103" class="t" style="left:758.36px;top:438.65px;transform-origin:0 0;font-size:13.00px;font-weight:bold;color:#15336a;transform:rotate(-90deg) scaleX(0.8603);-webkit-text-stroke:0.35px #15336a;">-26,5</div>
<div class="r" style="left:778.93px;top:334.55px;width:20.90px;height:28.05px;background:#a9bdd9;"></div>
<div id="t104" class="t" style="left:784.63px;top:331.15px;transform-origin:0 0;font-size:13.00px;font-weight:bold;color:#15336a;transform:rotate(-90deg) scaleX(0.8631);-webkit-text-stroke:0.35px #15336a;">+59,1</div>
<div class="r" style="left:779.63px;top:395.80px;width:20.90px;height:12.97px;background:#7ba0c5;"></div>
<div id="t105" class="t" style="left:783.33px;top:437.87px;transform-origin:0 0;font-size:13.00px;font-weight:bold;color:#15336a;transform:rotate(-90deg) scaleX(0.8603);-webkit-text-stroke:0.35px #15336a;">-25,0</div>
<div class="r" style="left:803.90px;top:335.83px;width:20.90px;height:26.77px;background:#a9bdd9;"></div>
<div id="t106" class="t" style="left:809.60px;top:332.43px;transform-origin:0 0;font-size:13.00px;font-weight:bold;color:#15336a;transform:rotate(-90deg) scaleX(0.8631);-webkit-text-stroke:0.35px #15336a;">+56,4</div>
<div class="r" style="left:804.60px;top:395.80px;width:20.90px;height:10.53px;background:#7ba0c5;"></div>
<div id="t107" class="t" style="left:808.30px;top:435.43px;transform-origin:0 0;font-size:13.00px;font-weight:bold;color:#15336a;transform:rotate(-90deg) scaleX(0.8603);-webkit-text-stroke:0.35px #15336a;">-20,3</div>
<div class="r" style="left:828.87px;top:337.26px;width:20.90px;height:25.34px;background:#a9bdd9;"></div>
<div id="t108" class="t" style="left:834.57px;top:333.86px;transform-origin:0 0;font-size:13.00px;font-weight:bold;color:#15336a;transform:rotate(-90deg) scaleX(0.8631);-webkit-text-stroke:0.35px #15336a;">+53,4</div>
<div class="r" style="left:829.57px;top:395.80px;width:20.90px;height:9.96px;background:#7ba0c5;"></div>
<div id="t109" class="t" style="left:833.27px;top:434.86px;transform-origin:0 0;font-size:13.00px;font-weight:bold;color:#15336a;transform:rotate(-90deg) scaleX(0.8603);-webkit-text-stroke:0.35px #15336a;">-19,2</div>
<div class="r" style="left:853.84px;top:337.30px;width:20.90px;height:25.30px;background:#a9bdd9;"></div>
<div id="t110" class="t" style="left:859.54px;top:333.90px;transform-origin:0 0;font-size:13.00px;font-weight:bold;color:#15336a;transform:rotate(-90deg) scaleX(0.8631);-webkit-text-stroke:0.35px #15336a;">+53,3</div>
<div class="r" style="left:854.54px;top:395.80px;width:20.90px;height:9.29px;background:#7ba0c5;"></div>
<div id="t111" class="t" style="left:858.24px;top:434.19px;transform-origin:0 0;font-size:13.00px;font-weight:bold;color:#15336a;transform:rotate(-90deg) scaleX(0.8603);-webkit-text-stroke:0.35px #15336a;">-17,9</div>
<div class="r" style="left:878.81px;top:337.49px;width:20.90px;height:25.11px;background:#a9bdd9;"></div>
<div id="t112" class="t" style="left:884.51px;top:334.09px;transform-origin:0 0;font-size:13.00px;font-weight:bold;color:#15336a;transform:rotate(-90deg) scaleX(0.8631);-webkit-text-stroke:0.35px #15336a;">+52,9</div>
<div class="r" style="left:879.51px;top:395.80px;width:20.90px;height:8.41px;background:#7ba0c5;"></div>
<div id="t113" class="t" style="left:883.21px;top:433.31px;transform-origin:0 0;font-size:13.00px;font-weight:bold;color:#15336a;transform:rotate(-90deg) scaleX(0.8603);-webkit-text-stroke:0.35px #15336a;">-16,2</div>
<div class="r" style="left:903.78px;top:339.01px;width:20.90px;height:23.59px;background:#a9bdd9;"></div>
<div id="t114" class="t" style="left:909.48px;top:335.61px;transform-origin:0 0;font-size:13.00px;font-weight:bold;color:#15336a;transform:rotate(-90deg) scaleX(0.8631);-webkit-text-stroke:0.35px #15336a;">+49,7</div>
<div class="r" style="left:904.48px;top:395.80px;width:20.90px;height:8.15px;background:#7ba0c5;"></div>
<div id="t115" class="t" style="left:908.18px;top:433.05px;transform-origin:0 0;font-size:13.00px;font-weight:bold;color:#15336a;transform:rotate(-90deg) scaleX(0.8603);-webkit-text-stroke:0.35px #15336a;">-15,7</div>
<div id="t116" class="t" style="left:694.40px;transform-origin:0 0;top:102.47px;font-size:9.60px;font-weight:normal;color:#4f5a70;transform:scaleX(0.6686);-webkit-text-stroke:0.22px #4d566b;">Кукурудза</div>
<div id="t117" class="t" style="left:694.40px;transform-origin:0 0;top:123.74px;font-size:9.60px;font-weight:normal;color:#4f5a70;transform:scaleX(0.6804);-webkit-text-stroke:0.22px #4d566b;">Напівфабрикати зі сталі</div>
<div id="t118" class="t" style="left:694.40px;transform-origin:0 0;top:145.01px;font-size:9.60px;font-weight:normal;color:#4f5a70;transform:scaleX(0.6886);-webkit-text-stroke:0.22px #4d566b;">Руди та концентрати залізні</div>
<div id="t119" class="t" style="left:694.40px;transform-origin:0 0;top:166.28px;font-size:9.60px;font-weight:normal;color:#4f5a70;transform:scaleX(0.6795);-webkit-text-stroke:0.22px #4d566b;">Насіння свиріпи</div>
<div id="t120" class="t" style="left:694.40px;transform-origin:0 0;top:187.55px;font-size:9.60px;font-weight:normal;color:#4f5a70;transform:scaleX(0.6873);-webkit-text-stroke:0.22px #4d566b;">Проводи ізольовані, кабелі</div>
<div id="t121" class="t" style="left:694.40px;transform-origin:0 0;top:208.82px;font-size:9.60px;font-weight:normal;color:#4f5a70;transform:scaleX(0.6880);-webkit-text-stroke:0.22px #4d566b;">М'ясо свійської птиці</div>
<div id="t122" class="t" style="left:694.40px;transform-origin:0 0;top:230.09px;font-size:9.60px;font-weight:normal;color:#4f5a70;transform:scaleX(0.6880);-webkit-text-stroke:0.22px #4d566b;">Електроенергія</div>
<div id="t123" class="t" style="left:694.40px;transform-origin:0 0;top:246.56px;font-size:9.60px;font-weight:normal;color:#4f5a70;transform:scaleX(0.6880);-webkit-text-stroke:0.22px #4d566b;">Телефонні апарати та їх</div>
<div id="t124" class="t" style="left:694.40px;transform-origin:0 0;top:256.06px;font-size:9.60px;font-weight:normal;color:#4f5a70;transform:scaleX(0.6880);-webkit-text-stroke:0.22px #4d566b;">частини</div>
<div id="t125" class="t" style="left:820.20px;transform-origin:0 0;top:102.47px;font-size:9.60px;font-weight:normal;color:#4f5a70;transform:scaleX(0.6880);-webkit-text-stroke:0.22px #4d566b;">Труби порожнисті, безшовні</div>
<div id="t126" class="t" style="left:820.20px;transform-origin:0 0;top:123.74px;font-size:9.60px;font-weight:normal;color:#4f5a70;transform:scaleX(0.6880);-webkit-text-stroke:0.22px #4d566b;">Прутки та бруски гарячекатані</div>
<div id="t127" class="t" style="left:820.20px;transform-origin:0 0;top:145.01px;font-size:9.60px;font-weight:normal;color:#4f5a70;transform:scaleX(0.6880);-webkit-text-stroke:0.22px #4d566b;">Вуглеводні ациклічні</div>
<div id="t128" class="t" style="left:820.20px;transform-origin:0 0;top:166.28px;font-size:9.60px;font-weight:normal;color:#4f5a70;transform:scaleX(0.6880);-webkit-text-stroke:0.22px #4d566b;">Лісоматеріали розпиляні</div>
<div id="t129" class="t" style="left:820.20px;transform-origin:0 0;top:182.75px;font-size:9.60px;font-weight:normal;color:#4f5a70;transform:scaleX(0.6794);-webkit-text-stroke:0.22px #4d566b;">Електричні водонагрівачі</div>
<div id="t130" class="t" style="left:820.20px;transform-origin:0 0;top:192.25px;font-size:9.60px;font-weight:normal;color:#4f5a70;transform:scaleX(0.6880);-webkit-text-stroke:0.22px #4d566b;">акумулювальні</div>
<div id="t131" class="t" style="left:820.20px;transform-origin:0 0;top:204.02px;font-size:9.60px;font-weight:normal;color:#4f5a70;transform:scaleX(0.6798);-webkit-text-stroke:0.22px #4d566b;">Нафтопродукти з бітумінозних</div>
<div id="t132" class="t" style="left:820.20px;transform-origin:0 0;top:213.52px;font-size:9.60px;font-weight:normal;color:#4f5a70;transform:scaleX(0.6880);-webkit-text-stroke:0.22px #4d566b;">порід</div>
<div id="t133" class="t" style="left:820.20px;transform-origin:0 0;top:230.09px;font-size:9.60px;font-weight:normal;color:#4f5a70;transform:scaleX(0.6805);-webkit-text-stroke:0.22px #4d566b;">Плоский прокат, холоднокатани</div>
<div id="t134" class="t" style="left:694.80px;transform-origin:0 0;top:470.07px;font-size:9.60px;font-weight:normal;color:#4f5a70;transform:scaleX(0.6659);-webkit-text-stroke:0.22px #4d566b;">Олія соняшникова</div>
<div id="t135" class="t" style="left:694.80px;transform-origin:0 0;top:491.22px;font-size:9.60px;font-weight:normal;color:#4f5a70;transform:scaleX(0.6880);-webkit-text-stroke:0.22px #4d566b;">Соєві боби</div>
<div id="t136" class="t" style="left:694.80px;transform-origin:0 0;top:512.37px;font-size:9.60px;font-weight:normal;color:#4f5a70;transform:scaleX(0.6880);-webkit-text-stroke:0.22px #4d566b;">Вугілля кам'яне</div>
<div id="t137" class="t" style="left:694.80px;transform-origin:0 0;top:530.42px;font-size:9.60px;font-weight:normal;color:#4f5a70;transform:scaleX(0.6880);-webkit-text-stroke:0.22px #4d566b;">Прокат плоский,</div>
<div id="t138" class="t" style="left:694.80px;transform-origin:0 0;top:538.02px;font-size:9.60px;font-weight:normal;color:#4f5a70;transform:scaleX(0.6880);-webkit-text-stroke:0.22px #4d566b;">гарячекатаний</div>
<div id="t139" class="t" style="left:694.80px;transform-origin:0 0;top:554.67px;font-size:9.60px;font-weight:normal;color:#4f5a70;transform:scaleX(0.6880);-webkit-text-stroke:0.22px #4d566b;">Нафта сира</div>
<div id="t140" class="t" style="left:694.80px;transform-origin:0 0;top:575.82px;font-size:9.60px;font-weight:normal;color:#4f5a70;transform:scaleX(0.6880);-webkit-text-stroke:0.22px #4d566b;">Феросплави</div>
<div id="t141" class="t" style="left:694.80px;transform-origin:0 0;top:596.97px;font-size:9.60px;font-weight:normal;color:#4f5a70;transform:scaleX(0.6880);-webkit-text-stroke:0.22px #4d566b;">Судна круїзні, екскурсійні</div>
<div id="t142" class="t" style="left:694.80px;transform-origin:0 0;top:618.12px;font-size:9.60px;font-weight:normal;color:#4f5a70;transform:scaleX(0.6880);-webkit-text-stroke:0.22px #4d566b;">Екстракти солодові</div>
<div id="t143" class="t" style="left:820.00px;transform-origin:0 0;top:470.07px;font-size:9.60px;font-weight:normal;color:#4f5a70;transform:scaleX(0.6880);-webkit-text-stroke:0.22px #4d566b;">Добрива азотні</div>
<div id="t144" class="t" style="left:820.00px;transform-origin:0 0;top:491.22px;font-size:9.60px;font-weight:normal;color:#4f5a70;transform:scaleX(0.6880);-webkit-text-stroke:0.22px #4d566b;">Чавун</div>
<div id="t145" class="t" style="left:820.00px;transform-origin:0 0;top:512.37px;font-size:9.60px;font-weight:normal;color:#4f5a70;transform:scaleX(0.6880);-webkit-text-stroke:0.22px #4d566b;">Мед натуральний</div>
<div id="t146" class="t" style="left:820.00px;transform-origin:0 0;top:533.52px;font-size:9.60px;font-weight:normal;color:#4f5a70;transform:scaleX(0.6880);-webkit-text-stroke:0.22px #4d566b;">Ячмінь</div>
<div id="t147" class="t" style="left:820.00px;transform-origin:0 0;top:554.67px;font-size:9.60px;font-weight:normal;color:#4f5a70;transform:scaleX(0.6880);-webkit-text-stroke:0.22px #4d566b;">Маргарин</div>
<div id="t148" class="t" style="left:820.00px;transform-origin:0 0;top:575.82px;font-size:9.60px;font-weight:normal;color:#4f5a70;transform:scaleX(0.6880);-webkit-text-stroke:0.22px #4d566b;">Соки з плодів</div>
<div id="t149" class="t" style="left:820.00px;transform-origin:0 0;top:596.97px;font-size:9.60px;font-weight:normal;color:#4f5a70;transform:scaleX(0.6880);-webkit-text-stroke:0.22px #4d566b;">Двигуни турбореактивні</div>
<svg class="r" style="left:0;top:0;font-family:'Liberation Sans',sans-serif" width="960" height="715" viewBox="0 0 960 715"><circle cx="564.75" cy="379.1" r="7.1" fill="#15336a"/><text x="564.75" y="382.3" font-size="9" font-weight="bold" fill="#fff" text-anchor="middle" >1</text><circle cx="589.72" cy="379.1" r="7.1" fill="#15336a"/><text x="589.72" y="382.3" font-size="9" font-weight="bold" fill="#fff" text-anchor="middle" >2</text><circle cx="614.69" cy="379.1" r="7.1" fill="#15336a"/><text x="614.69" y="382.3" font-size="9" font-weight="bold" fill="#fff" text-anchor="middle" >3</text><circle cx="639.66" cy="379.1" r="7.1" fill="#15336a"/><text x="639.66" y="382.3" font-size="9" font-weight="bold" fill="#fff" text-anchor="middle" >4</text><circle cx="664.63" cy="379.1" r="7.1" fill="#15336a"/><text x="664.63" y="382.3" font-size="9" font-weight="bold" fill="#fff" text-anchor="middle" >5</text><circle cx="689.60" cy="379.1" r="7.1" fill="#15336a"/><text x="689.60" y="382.3" font-size="9" font-weight="bold" fill="#fff" text-anchor="middle" >6</text><circle cx="714.57" cy="379.1" r="7.1" fill="#15336a"/><text x="714.57" y="382.3" font-size="9" font-weight="bold" fill="#fff" text-anchor="middle" >7</text><circle cx="739.54" cy="379.1" r="7.1" fill="#15336a"/><text x="739.54" y="382.3" font-size="9" font-weight="bold" fill="#fff" text-anchor="middle" >8</text><circle cx="764.51" cy="379.1" r="7.1" fill="#15336a"/><text x="764.51" y="382.3" font-size="9" font-weight="bold" fill="#fff" text-anchor="middle" >9</text><circle cx="789.48" cy="379.1" r="7.1" fill="#15336a"/><text x="789.48" y="382.3" font-size="9" font-weight="bold" fill="#fff" text-anchor="middle" textLength="9.0" lengthAdjust="spacingAndGlyphs">10</text><circle cx="814.45" cy="379.1" r="7.1" fill="#15336a"/><text x="814.45" y="382.3" font-size="9" font-weight="bold" fill="#fff" text-anchor="middle" textLength="9.0" lengthAdjust="spacingAndGlyphs">11</text><circle cx="839.42" cy="379.1" r="7.1" fill="#15336a"/><text x="839.42" y="382.3" font-size="9" font-weight="bold" fill="#fff" text-anchor="middle" textLength="9.0" lengthAdjust="spacingAndGlyphs">12</text><circle cx="864.39" cy="379.1" r="7.1" fill="#15336a"/><text x="864.39" y="382.3" font-size="9" font-weight="bold" fill="#fff" text-anchor="middle" textLength="9.0" lengthAdjust="spacingAndGlyphs">13</text><circle cx="889.36" cy="379.1" r="7.1" fill="#15336a"/><text x="889.36" y="382.3" font-size="9" font-weight="bold" fill="#fff" text-anchor="middle" textLength="9.0" lengthAdjust="spacingAndGlyphs">14</text><circle cx="914.33" cy="379.1" r="7.1" fill="#15336a"/><text x="914.33" y="382.3" font-size="9" font-weight="bold" fill="#fff" text-anchor="middle" textLength="9.0" lengthAdjust="spacingAndGlyphs">15</text><circle cx="680.20" cy="107.30" r="7.8" fill="#a3b7d2"/><text x="680.20" y="110.20" font-size="8.2" font-weight="bold" fill="#fff" fill-opacity="0.92" text-anchor="middle" >1</text><circle cx="680.20" cy="128.57" r="7.8" fill="#a3b7d2"/><text x="680.20" y="131.47" font-size="8.2" font-weight="bold" fill="#fff" fill-opacity="0.92" text-anchor="middle" >2</text><circle cx="680.20" cy="149.84" r="7.8" fill="#a3b7d2"/><text x="680.20" y="152.74" font-size="8.2" font-weight="bold" fill="#fff" fill-opacity="0.92" text-anchor="middle" >3</text><circle cx="680.20" cy="171.11" r="7.8" fill="#a3b7d2"/><text x="680.20" y="174.01" font-size="8.2" font-weight="bold" fill="#fff" fill-opacity="0.92" text-anchor="middle" >4</text><circle cx="680.20" cy="192.38" r="7.8" fill="#a3b7d2"/><text x="680.20" y="195.28" font-size="8.2" font-weight="bold" fill="#fff" fill-opacity="0.92" text-anchor="middle" >5</text><circle cx="680.20" cy="213.65" r="7.8" fill="#a3b7d2"/><text x="680.20" y="216.55" font-size="8.2" font-weight="bold" fill="#fff" fill-opacity="0.92" text-anchor="middle" >6</text><circle cx="680.20" cy="234.92" r="7.8" fill="#a3b7d2"/><text x="680.20" y="237.82" font-size="8.2" font-weight="bold" fill="#fff" fill-opacity="0.92" text-anchor="middle" >7</text><circle cx="680.20" cy="256.19" r="7.8" fill="#a3b7d2"/><text x="680.20" y="259.09" font-size="8.2" font-weight="bold" fill="#fff" fill-opacity="0.92" text-anchor="middle" >8</text><circle cx="805.30" cy="107.30" r="7.8" fill="#a3b7d2"/><text x="805.30" y="110.20" font-size="8.2" font-weight="bold" fill="#fff" fill-opacity="0.92" text-anchor="middle" >9</text><circle cx="805.30" cy="128.57" r="7.8" fill="#a3b7d2"/><text x="805.30" y="131.47" font-size="8.2" font-weight="bold" fill="#fff" fill-opacity="0.92" text-anchor="middle" textLength="8.6" lengthAdjust="spacingAndGlyphs">10</text><circle cx="805.30" cy="149.84" r="7.8" fill="#a3b7d2"/><text x="805.30" y="152.74" font-size="8.2" font-weight="bold" fill="#fff" fill-opacity="0.92" text-anchor="middle" textLength="8.6" lengthAdjust="spacingAndGlyphs">11</text><circle cx="805.30" cy="171.11" r="7.8" fill="#a3b7d2"/><text x="805.30" y="174.01" font-size="8.2" font-weight="bold" fill="#fff" fill-opacity="0.92" text-anchor="middle" textLength="8.6" lengthAdjust="spacingAndGlyphs">12</text><circle cx="805.30" cy="192.38" r="7.8" fill="#a3b7d2"/><text x="805.30" y="195.28" font-size="8.2" font-weight="bold" fill="#fff" fill-opacity="0.92" text-anchor="middle" textLength="8.6" lengthAdjust="spacingAndGlyphs">13</text><circle cx="805.30" cy="213.65" r="7.8" fill="#a3b7d2"/><text x="805.30" y="216.55" font-size="8.2" font-weight="bold" fill="#fff" fill-opacity="0.92" text-anchor="middle" textLength="8.6" lengthAdjust="spacingAndGlyphs">14</text><circle cx="805.30" cy="234.92" r="7.8" fill="#a3b7d2"/><text x="805.30" y="237.82" font-size="8.2" font-weight="bold" fill="#fff" fill-opacity="0.92" text-anchor="middle" textLength="8.6" lengthAdjust="spacingAndGlyphs">15</text><circle cx="680.20" cy="474.90" r="7.8" fill="#7ba0c5"/><text x="680.20" y="477.80" font-size="8.2" font-weight="bold" fill="#fff" fill-opacity="0.92" text-anchor="middle" >1</text><circle cx="680.20" cy="496.05" r="7.8" fill="#7ba0c5"/><text x="680.20" y="498.95" font-size="8.2" font-weight="bold" fill="#fff" fill-opacity="0.92" text-anchor="middle" >2</text><circle cx="680.20" cy="517.20" r="7.8" fill="#7ba0c5"/><text x="680.20" y="520.10" font-size="8.2" font-weight="bold" fill="#fff" fill-opacity="0.92" text-anchor="middle" >3</text><circle cx="680.20" cy="538.35" r="7.8" fill="#7ba0c5"/><text x="680.20" y="541.25" font-size="8.2" font-weight="bold" fill="#fff" fill-opacity="0.92" text-anchor="middle" >4</text><circle cx="680.20" cy="559.50" r="7.8" fill="#7ba0c5"/><text x="680.20" y="562.40" font-size="8.2" font-weight="bold" fill="#fff" fill-opacity="0.92" text-anchor="middle" >5</text><circle cx="680.20" cy="580.65" r="7.8" fill="#7ba0c5"/><text x="680.20" y="583.55" font-size="8.2" font-weight="bold" fill="#fff" fill-opacity="0.92" text-anchor="middle" >6</text><circle cx="680.20" cy="601.80" r="7.8" fill="#7ba0c5"/><text x="680.20" y="604.70" font-size="8.2" font-weight="bold" fill="#fff" fill-opacity="0.92" text-anchor="middle" >7</text><circle cx="680.20" cy="622.95" r="7.8" fill="#7ba0c5"/><text x="680.20" y="625.85" font-size="8.2" font-weight="bold" fill="#fff" fill-opacity="0.92" text-anchor="middle" >8</text><circle cx="805.30" cy="474.90" r="7.8" fill="#7ba0c5"/><text x="805.30" y="477.80" font-size="8.2" font-weight="bold" fill="#fff" fill-opacity="0.92" text-anchor="middle" >9</text><circle cx="805.30" cy="496.05" r="7.8" fill="#7ba0c5"/><text x="805.30" y="498.95" font-size="8.2" font-weight="bold" fill="#fff" fill-opacity="0.92" text-anchor="middle" textLength="8.6" lengthAdjust="spacingAndGlyphs">10</text><circle cx="805.30" cy="517.20" r="7.8" fill="#7ba0c5"/><text x="805.30" y="520.10" font-size="8.2" font-weight="bold" fill="#fff" fill-opacity="0.92" text-anchor="middle" textLength="8.6" lengthAdjust="spacingAndGlyphs">11</text><circle cx="805.30" cy="538.35" r="7.8" fill="#7ba0c5"/><text x="805.30" y="541.25" font-size="8.2" font-weight="bold" fill="#fff" fill-opacity="0.92" text-anchor="middle" textLength="8.6" lengthAdjust="spacingAndGlyphs">12</text><circle cx="805.30" cy="559.50" r="7.8" fill="#7ba0c5"/><text x="805.30" y="562.40" font-size="8.2" font-weight="bold" fill="#fff" fill-opacity="0.92" text-anchor="middle" textLength="8.6" lengthAdjust="spacingAndGlyphs">13</text><circle cx="805.30" cy="580.65" r="7.8" fill="#7ba0c5"/><text x="805.30" y="583.55" font-size="8.2" font-weight="bold" fill="#fff" fill-opacity="0.92" text-anchor="middle" textLength="8.6" lengthAdjust="spacingAndGlyphs">14</text><circle cx="805.30" cy="601.80" r="7.8" fill="#7ba0c5"/><text x="805.30" y="604.70" font-size="8.2" font-weight="bold" fill="#fff" fill-opacity="0.92" text-anchor="middle" textLength="8.6" lengthAdjust="spacingAndGlyphs">15</text></svg>
</body></html>
